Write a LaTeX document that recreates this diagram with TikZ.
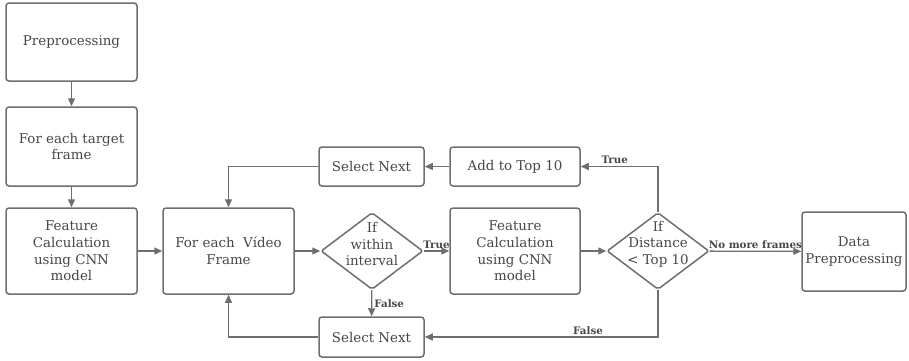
\documentclass[tikz,border=0pt]{standalone}
\usepackage{fontspec}
\setmainfont{DejaVu Serif}
\definecolor{LineGray}{HTML}{6E6E6E}
\definecolor{TextGray}{HTML}{474747}
\usetikzlibrary{arrows.meta,shapes.geometric}
\tikzset{
  box/.style={draw=LineGray, line width=1.5pt, rounded corners=3pt, fill=white, align=center, inner sep=2pt, text=TextGray, font=\fontsize{13.4}{16.7}\selectfont},
  decision/.style={draw=LineGray, line width=1.5pt, diamond, rounded corners=2pt, fill=white, inner sep=0pt, minimum width=102pt, minimum height=77pt},
  dtext/.style={align=center, inner sep=0pt, text=TextGray, font=\fontsize{13.4}{16.7}\selectfont},
  lbl/.style={inner sep=2pt, text=TextGray, font=\bfseries\fontsize{10.3}{12}\selectfont},
  arrow/.style={-{Triangle[length=8pt,width=7pt]}, line width=1.3pt, draw=LineGray}
}
\begin{document}
\begin{tikzpicture}[x=1pt,y=-1pt]
  \useasboundingbox (0,0) rectangle (909,360);

  \node[box, minimum width=131pt, minimum height=78pt] (pre) at (71.5,42) {Preprocessing};
  \node[box, minimum width=131pt, minimum height=79pt] (target) at (71.5,146.5) {For each target\\frame};
  \node[box, minimum width=131pt, minimum height=86pt] (featL) at (71.5,251) {Feature\\Calculation\\using CNN\\model};
  \node[box, minimum width=131pt, minimum height=86pt] (video) at (228.5,251) {For each~ Vídeo\\Frame};

  \node[decision] (cond1) at (372,251) {};
  \node[dtext] (cond1t) at (372,244) {If\\within\\interval};
  \node[box, minimum width=130pt, minimum height=86pt] (featM) at (515,251) {Feature\\Calculation\\using CNN\\model};
  \node[decision] (cond2) at (658,251) {};
  \node[dtext] (cond2t) at (658,244) {If\\Distance\\< Top 10};
  \node[box, minimum width=104pt, minimum height=79pt] (data) at (854,251.5) {Data\\Preprocessing};

  \node[box, minimum width=105pt, minimum height=39pt] (selTop) at (371.5,166.5) {Select Next};
  \node[box, minimum width=130pt, minimum height=39pt] (addTop) at (515,166.5) {Add to Top 10};
  \node[box, minimum width=105pt, minimum height=40pt] (selBot) at (371.5,337) {Select Next};

  \draw[arrow] (pre) -- (target);
  \draw[arrow] (target) -- (featL);
  \draw[arrow] (featL) -- (video);
  \draw[arrow] (video) -- (cond1);
  \draw[arrow] (cond1) -- node[lbl, above] {True} (featM);
  \draw[arrow] (cond1) -- node[lbl, right] {False} (selBot);
  \draw[arrow] (featM) -- (cond2);
  \draw[arrow] (cond2) -- node[lbl, above] {No more frames} (data);
  \draw[arrow] (cond2.north) |- node[lbl, above, pos=0.78] {True} (addTop);
  \draw[arrow] (cond2.south) |- node[lbl, above, pos=0.65] {False} (selBot);
  \draw[arrow] (addTop) -- (selTop);
  \draw[arrow] (selTop) -| (video);
  \draw[arrow] (selBot) -| (video);
\end{tikzpicture}
\end{document}
